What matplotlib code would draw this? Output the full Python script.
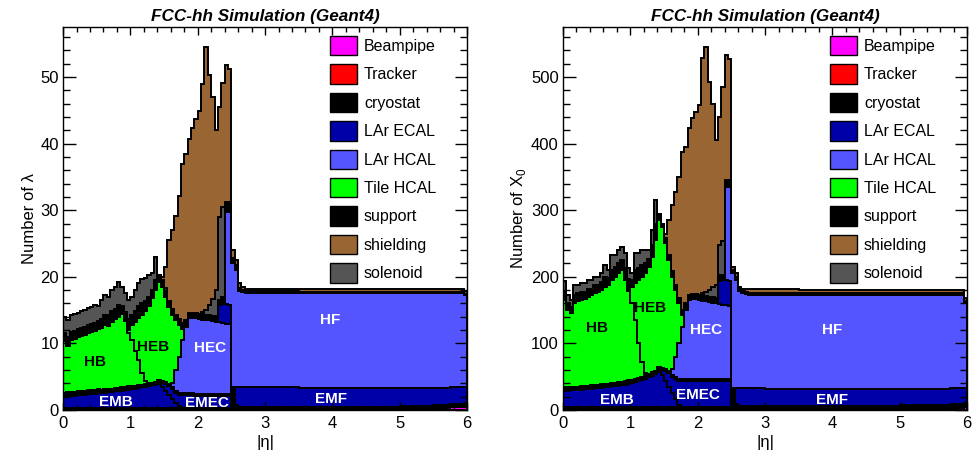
import numpy as np
import matplotlib.pyplot as plt
from matplotlib.patches import Patch
from matplotlib.ticker import MultipleLocator

plt.rcParams['font.family'] = ['Liberation Sans', 'DejaVu Sans']
plt.rcParams['mathtext.fontset'] = 'custom'
plt.rcParams['mathtext.rm'] = 'Liberation Sans'

# |eta| bin edges: 0.05 wide up to 2.75, wider in the flat forward part
EDGES = np.r_[np.round(np.arange(0, 2.76, 0.05), 2), 3.0, 3.5, 4.0, 4.5, 5.0, 5.5, 5.75, 5.95, 6.0]
NB = len(EDGES) - 1

LEGEND = ['Beampipe', 'Tracker', 'cryostat', 'LAr ECAL', 'LAr HCAL',
          'Tile HCAL', 'support', 'shielding', 'solenoid']
COLORS = {'Beampipe': '#ff00ff', 'Tracker': '#ff0000', 'cryostat': '#000000',
          'LAr ECAL': '#0000a8', 'LAr HCAL': '#5555ff', 'Tile HCAL': '#00ff00',
          'support': '#000000', 'shielding': '#996633', 'solenoid': '#555555'}

# ---- nuclear interaction lengths (lambda), (first bin, values) ----
LAM_BEAMPIPE = (60, [0.1, 0.25, 0.4, 0.5])
LAM_TRACKER = (0, [])
LAM_CRYO_FRONT = (0, [0.35] * 50 + [0.5] * 14)
LAM_EMB = (0, [1.65, 1.7, 1.75, 1.8, 1.85, 1.9, 1.95, 2.0, 2.05, 2.1, 2.15, 2.2, 2.25, 2.3,
               2.35, 2.45, 2.5, 2.55, 2.6, 2.7, 2.75, 2.85, 2.95, 3.05, 3.15, 3.25, 3.35,
               3.45, 3.5, 3.05, 2.45, 1.85, 1.25, 0.65, 0.25])
LAM_EMEC = (28, [0.2, 0.6, 1.1, 1.4, 1.5, 1.6, 1.7, 1.85, 1.85, 1.85, 1.85, 1.8, 1.8,
                 1.8, 1.8, 1.8, 1.8, 1.8, 1.8, 1.8, 1.8, 1.8])
LAM_CRYO_MID = (0, [0.6] * 11 + [0.5] * 10 + [0.4] * 8 + [0.3] * 21 + [3.0, 0.3])
LAM_HEC = (32, [0.6, 3.1, 5.4, 8.0, 10.0, 11.3, 11.3, 11.3, 11.2, 11.1, 11.0, 11.0,
                10.9, 10.8, 10.7, 10.6, 10.5, 10.5])
LAM_EMF = (46, [2.6, 2.9, 3.0, 2.8, 0.0, 2.7, 3.0, 3.0, 3.0, 2.95, 2.9, 2.85, 2.8, 2.8,
                2.7, 2.6, 2.5, 2.4])
LAM_HF = (48, [13.8, 14.0, 18.5, 17.5, 14.3, 14.2, 14.1, 14.15, 14.2, 14.2, 14.2, 14.2,
               14.2, 14.15, 14.1, 13.8])
LAM_HB = (0, [7.7, 6.95, 7.8, 7.95, 8.1, 8.25, 8.4, 8.55, 8.7, 8.85, 9.0, 9.25, 9.7, 9.45,
              10.0, 10.3, 10.65, 11.0, 9.85, 7.95, 6.9, 5.2, 3.8, 1.7, 0.4])
LAM_HEB = (19, [0.5, 2.3, 4.4, 6.3, 8.8, 10.5, 11.6, 12.7, 13.8, 14.75, 14.2, 12.8, 11.6,
                10.3, 7.5, 4.8, 1.7])
LAM_SUPPORT = (0, [1.2, 1.3, 1.2, 1.2, 1.2, 1.2, 1.2, 1.2, 1.2, 1.2, 1.2, 1.3, 1.5, 1.6,
                   1.6, 1.6, 1.8, 1.2, 1.4, 1.6, 1.4, 1.6, 1.8, 1.8, 1.6, 1.4, 1.2, 1.5, 0.7,
                   0.7, 0.8, 0.8, 0.8, 0.8, 0.8, 0.8, 1.0, 0.8, 0.8, 0.8, 0.8, 0.8, 0.8, 0.8,
                   0.8, 0.8, 0.7, 1.0, 1.5, 1.5, 0.8, 0.8, 0.5, 0.3, 0.2] + [0.2] * 9)
LAM_SOLENOID = (0, [2.5, 2.6, 2.5, 2.5, 2.5, 2.5, 2.5, 2.6, 2.6, 2.7, 2.3, 2.9, 2.9, 2.8,
                    3.2, 3.3, 3.4, 2.9, 2.8, 2.9, 2.8, 3.2, 3.4, 3.5, 3.4, 3.2, 2.5, 3.5, 0.4,
                    0.3, 0.5, 0, 0, 0, 0, 0, 0, 0, 0, 0, 0, 0.3, 0.8, 1.5, 2.5, 4.0, 12.5, 13.5])
LAM_SHIELDING = (29, [0.5, 3.2, 9.2, 11.9, 14.8, 18.5, 24.0, 24.9, 26.1, 27.7, 29.1, 30.4,
                      34.3, 39.4, 34.5, 30.3, 24.0, 16.5, 18.7, 20.5, 19.9, 1.2, 0.7, 0.7,
                      0.5, 0.4] + [0.4] * 9)

# ---- radiation lengths (X0) ----
X0_BEAMPIPE = (60, [1, 2, 3, 4])
X0_TRACKER = (0, [])
X0_CRYO_FRONT = (0, [4] * 50 + [6] * 14)
X0_EMB = (0, [25, 25.3, 25.6, 26, 26.3, 26.7, 27, 27.5, 28, 28.5, 29, 29.5, 30, 30.7, 31.4,
              32.1, 32.8, 33.5, 34.3, 35.5, 36.5, 38, 39.5, 41, 43, 45, 47.5, 50, 53, 48, 39,
              30, 21, 12, 4])
X0_EMEC = (28, [2, 8, 15, 22, 25, 31, 36, 40, 40, 40, 40, 40, 40, 40, 40, 39, 39, 39, 39,
                39, 39, 39])
X0_CRYO_MID = (0, [5] * 29 + [3] * 21 + [27, 3])
X0_HEC = (32, [9, 30, 53, 78, 103, 118, 119, 119, 118, 117, 116, 116, 115, 114, 113, 112,
               111, 110])
X0_EMF = (46, [35, 37, 38, 38, 0, 24, 27, 27, 27, 27, 26, 25, 25, 25, 24, 24, 24, 23])
X0_HF = (48, [140, 141, 172, 162, 145, 142, 141, 140, 141, 141, 141, 141, 141, 140, 139, 127])
X0_HB = (0, [131, 115.7, 110.4, 125, 127.7, 129.3, 131, 132.5, 135, 137.5, 139, 141.5, 146,
             148.3, 154.6, 158.9, 163.2, 167.5, 151.7, 133.5, 114.5, 88, 51.5, 22, 3])
X0_HEB = (19, [4, 25, 55, 95, 128, 150, 161, 173.5, 196, 221, 212, 189, 166, 138, 100, 60, 17])
X0_SUPPORT = (0, [12, 10, 10, 12, 12, 12, 10, 12, 10, 12, 10, 12, 15, 10, 15, 15, 15, 15, 18,
                  15, 10, 20, 18, 18, 15, 12, 18, 25, 6, 5, 8, 8, 8, 8, 8, 8, 10, 8, 8, 8, 8,
                  8, 8, 8, 8, 8, 8, 8, 10, 10, 5, 5, 3, 3, 3] + [3] * 9)
X0_SOLENOID = (0, [16, 12, 10, 16, 13, 13, 13, 14, 13, 13, 13, 13, 18, 12, 22, 18, 20, 20, 22,
                   16, 10, 25, 22, 22, 20, 13, 22, 35, 4] + [0] * 12 + [3, 6, 10, 15, 20, 45, 50])
X0_SHIELDING = (29, [0, 7, 52, 100, 140, 182, 238, 235, 250, 264, 274, 285, 353, 368, 313,
                     276, 217, 193, 232, 188, 182, 5, 5, 4, 4, 5] + [5] * 9)

# region labels: (text, eta, value, colour)
LAM_LABELS = [('HB', 0.47, 7.2, 'black'), ('HEB', 1.34, 9.5, 'black'),
              ('HEC', 2.19, 9.3, 'white'), ('HF', 3.96, 13.5, 'white'),
              ('EMB', 0.78, 1.25, 'white'), ('EMEC', 2.14, 1.0, 'white'),
              ('EMF', 3.98, 1.6, 'white')]
X0_LABELS = [('HB', 0.5, 123, 'black'), ('HEB', 1.29, 153, 'black'),
             ('HEC', 2.12, 120, 'white'), ('HF', 3.99, 120, 'white'),
             ('EMB', 0.8, 15, 'white'), ('EMEC', 2.0, 23, 'white'),
             ('EMF', 4.0, 15, 'white')]


def full(comp):
    start, vals = comp
    arr = np.zeros(NB)
    arr[start:start + len(vals)] = vals
    return arr


def draw(ax, comps, labels, ymax, ylabel, major, minor):
    base = np.zeros(NB)
    for comp, mat in comps:
        vals = full(comp)
        ax.stairs(base + vals, EDGES, baseline=base, fill=True,
                  facecolor=COLORS[mat], edgecolor='black', linewidth=1.4)
        base = base + vals
    for txt, x, y, c in labels:
        ax.text(x, y, txt, color=c, fontsize=11, fontweight='bold', ha='center', va='center')
    ax.set_xlim(0, 6)
    ax.set_ylim(0, ymax)
    ax.xaxis.set_major_locator(MultipleLocator(1))
    ax.xaxis.set_minor_locator(MultipleLocator(0.2))
    ax.yaxis.set_major_locator(MultipleLocator(major))
    ax.yaxis.set_minor_locator(MultipleLocator(minor))
    ax.tick_params(which='both', direction='in', top=True, right=True, labelsize=12, width=1)
    ax.tick_params(axis='x', which='major', length=6, pad=4)
    ax.tick_params(axis='x', which='minor', length=3.5)
    ax.tick_params(axis='y', which='major', length=9, pad=3)
    ax.tick_params(axis='y', which='minor', length=5)
    for s in ax.spines.values():
        s.set_linewidth(1.0)
    ax.set_xlabel('|η|', fontsize=12, labelpad=3)
    ax.set_ylabel(ylabel, fontsize=12, labelpad=2)
    ax.set_title('FCC-hh Simulation (Geant4)', fontsize=12.3, fontweight='bold',
                 fontstyle='italic', pad=4)
    handles = [Patch(facecolor=COLORS[m], edgecolor='black', linewidth=1) for m in LEGEND]
    ax.legend(handles, LEGEND, loc='upper left', bbox_to_anchor=(0.66, 0.977),
              frameon=False, fontsize=11.5, handlelength=1.7, handleheight=1.5,
              labelspacing=0.56, handletextpad=0.45, borderpad=0, borderaxespad=0)


fig = plt.figure(figsize=(9.79, 4.57), dpi=100)
ax1 = fig.add_axes([0.0644, 0.1028, 0.4127, 0.8381])
ax2 = fig.add_axes([0.5751, 0.1028, 0.4127, 0.8381])

draw(ax1, [(LAM_BEAMPIPE, 'Beampipe'), (LAM_TRACKER, 'Tracker'), (LAM_CRYO_FRONT, 'cryostat'),
           (LAM_EMB, 'LAr ECAL'), (LAM_EMEC, 'LAr ECAL'), (LAM_CRYO_MID, 'cryostat'),
           (LAM_HEC, 'LAr HCAL'), (LAM_EMF, 'LAr ECAL'), (LAM_HF, 'LAr HCAL'),
           (LAM_HB, 'Tile HCAL'), (LAM_HEB, 'Tile HCAL'), (LAM_SUPPORT, 'support'),
           (LAM_SOLENOID, 'solenoid'), (LAM_SHIELDING, 'shielding')],
     LAM_LABELS, 57.5, 'Number of λ', 10, 2)
draw(ax2, [(X0_BEAMPIPE, 'Beampipe'), (X0_TRACKER, 'Tracker'), (X0_CRYO_FRONT, 'cryostat'),
           (X0_EMB, 'LAr ECAL'), (X0_EMEC, 'LAr ECAL'), (X0_CRYO_MID, 'cryostat'),
           (X0_HEC, 'LAr HCAL'), (X0_EMF, 'LAr ECAL'), (X0_HF, 'LAr HCAL'),
           (X0_HB, 'Tile HCAL'), (X0_HEB, 'Tile HCAL'), (X0_SUPPORT, 'support'),
           (X0_SOLENOID, 'solenoid'), (X0_SHIELDING, 'shielding')],
     X0_LABELS, 575, 'Number of X$_0$', 100, 20)

fig.savefig('out.png', dpi=100)
